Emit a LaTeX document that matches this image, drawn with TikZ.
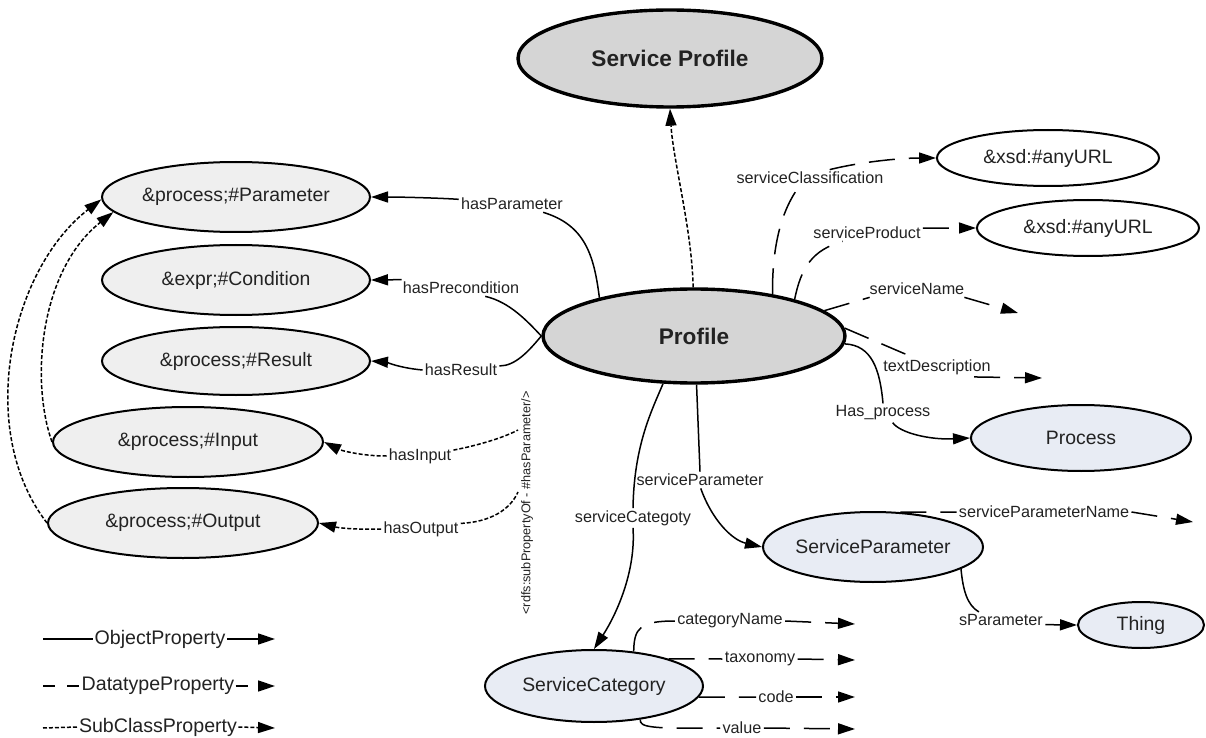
\documentclass[tikz,border=0pt]{standalone}
\usepackage{fontspec}
\setmainfont{Liberation Sans}
\usetikzlibrary{shapes.geometric,arrows.meta}
\definecolor{graybg}{HTML}{D5D5D5}
\definecolor{lightbg}{HTML}{EFEFEF}
\definecolor{bluebg}{HTML}{E8ECF4}
\definecolor{ink}{HTML}{222222}
\tikzset{
  cls/.style={ellipse, draw=black, line width=1pt, inner sep=0pt, text=ink,
    font=\fontsize{9.7}{11}\selectfont},
  mainnode/.style={cls, fill=graybg, line width=1.7pt,
    font=\fontsize{11.3}{13}\selectfont\bfseries},
  plainnode/.style={cls, fill=lightbg},
  instnode/.style={cls, fill=bluebg},
  litnode/.style={cls, fill=white},
  elabel/.style={inner sep=1pt, text=ink, font=\fontsize{8.1}{9}\selectfont},
  legendtext/.style={inner sep=0.5pt, text=ink, font=\fontsize{9.8}{11}\selectfont},
  conn/.style={line width=0.75pt, draw=black},
  objp/.style={conn},
  datap/.style={conn, dash pattern=on 13pt off 7pt},
  subp/.style={conn, dash pattern=on 2pt off 1pt},
  arr/.style={-{Triangle[length=8.5pt,width=5.5pt]}},
}
\begin{document}
\begin{tikzpicture}[x=0.5pt,y=-0.5pt]
\useasboundingbox (0,0) rectangle (1206,738);

% classes
\node[mainnode, minimum width=152pt, minimum height=48.5pt] (sprof) at (670,58.5) {Service Profile};
\node[mainnode, minimum width=151pt, minimum height=47pt] (prof) at (694,336) {Profile};
\node[plainnode, minimum width=134pt, minimum height=35pt] (param) at (236,197) {\&process;\#Parameter};
\node[plainnode, minimum width=134pt, minimum height=35pt] (cond) at (236,280) {\&expr;\#Condition};
\node[plainnode, minimum width=134pt, minimum height=34pt] (result) at (236,361) {\&process;\#Result};
\node[plainnode, minimum width=135pt, minimum height=35pt] (input) at (188,442) {\&process;\#Input};
\node[plainnode, minimum width=135pt, minimum height=35pt] (output) at (183,523) {\&process;\#Output};
\node[litnode, minimum width=111pt, minimum height=28pt] (url1) at (1048,158) {\&xsd:\#anyURL};
\node[litnode, minimum width=111pt, minimum height=28pt] (url2) at (1088,228) {\&xsd:\#anyURL};
\node[instnode, minimum width=110pt, minimum height=33pt] (process) at (1081,438) {Process};
\node[instnode, minimum width=110pt, minimum height=35pt] (spar) at (873,547) {ServiceParameter};
\node[instnode, minimum width=63pt, minimum height=23pt] (thing) at (1141,625) {Thing};
\node[instnode, minimum width=109pt, minimum height=36pt] (scat) at (594,686) {ServiceCategory};

% property labels
\node[elabel] (lpar) at (512,204) {hasParameter};
\node[elabel] (lpre) at (461,288) {hasPrecondition};
\node[elabel] (lres) at (461,370) {hasResult};
\node[elabel] (lin) at (420,456) {hasInput};
\node[elabel] (lout) at (421,529) {hasOutput};
\node[elabel, rotate=90, font=\fontsize{6.35}{7}\selectfont] (lsub) at (527,503) {<rdfs:subPropertyOf - \#hasParameter/>};
\node[elabel] (lcls) at (810,178) {serviceClassification};
\node[elabel] (lprod) at (867,233) {serviceProduct};
\node[elabel] (lname) at (917,289) {serviceName};
\node[elabel] (ltxt) at (937,367) {textDescription};
\node[elabel] (lhp) at (883,413) {Has\_process};
\node[elabel] (lspar) at (700,480) {serviceParameter};
\node[elabel] (lscat) at (633,518) {serviceCategoty};
\node[elabel] (lspn) at (1044,512) {serviceParameterName};
\node[elabel] (lsp) at (1001,620) {sParameter};
\node[elabel] (lcn) at (730,621) {categoryName};
\node[elabel] (ltax) at (760,659) {taxonomy};
\node[elabel] (lcode) at (776,697) {code};
\node[elabel] (lval) at (742,728) {value};

% open ends of datatype properties
\coordinate (inEnd) at (518,430);
\coordinate (outEnd) at (518,492);
\coordinate (snEnd) at (1018,313);
\coordinate (tdEnd) at (1042,378);
\coordinate (spnEnd) at (1193,522);
\coordinate (cnEnd) at (855,624);
\coordinate (txEnd) at (855,660);
\coordinate (cdEnd) at (855,697);
\coordinate (vEnd) at (855,729);

% subclass of Service Profile
\draw[subp,arr] (prof.91) .. controls (692,230) and (673,160) .. (sprof.south);

% object properties on the left
\draw[objp] (prof.158) .. controls (594,255) and (585,225) .. (lpar.-15);
\draw[objp,arr] (lpar.175) .. controls (440,198) and (400,197) .. (param.east);
\draw[objp] (prof.west) .. controls (528,322) and (510,302) .. (lpre.-19);
\draw[objp,arr] (lpre.172) -- (cond.east);
\draw[objp] (prof.west) .. controls (528,352) and (515,366) .. (lres.6);
\draw[objp,arr] (lres.west) .. controls (400,368) and (385,362) .. (result.east);

% sub-properties of hasParameter
\draw[subp] (lin.10) .. controls (480,445) and (505,437) .. (inEnd);
\draw[subp,arr] (lin.west) .. controls (360,456) and (340,450) .. (input.east);
\draw[subp] (lout.8) .. controls (490,522) and (510,510) .. (outEnd);
\draw[subp,arr] (lout.west) .. controls (350,530) and (335,527) .. (output.east);

% Input and Output are Parameters
\draw[subp,arr] (input.west) .. controls (30,380) and (40,270) .. (param.187);
\draw[subp,arr] (output.west) .. controls (-25,430) and (10,270) .. (param.181);

% datatype properties on the right
\draw[datap] (prof.28) .. controls (772,250) and (780,212) .. (lcls.-142);
\draw[datap,arr] (lcls.23) .. controls (860,162) and (900,158) .. (url1.west);
\draw[datap] (prof.20) .. controls (801,268) and (812,250) .. (lprod.199);
\draw[datap,arr] (lprod.5) -- (url2.west);
\draw[datap] (prof.11) -- (lname.190);
\draw[datap,arr] (lname.-10) -- (snEnd);
\draw[datap] (prof.3) -- (ltxt.158);
\draw[datap,arr] (ltxt.-15) -- (tdEnd);

% object properties below
\draw[objp] (prof.-3) .. controls (872,345) and (880,370) .. (lhp.north);
\draw[objp,arr] (lhp.-45) .. controls (900,433) and (930,440) .. (process.west);
\draw[objp] (prof.-87) -- (lspar.north);
\draw[objp,arr] (lspar.-85) .. controls (712,520) and (732,540) .. (spar.west);
\draw[objp] (prof.-123) .. controls (652,410) and (634,445) .. (lscat.north);
\draw[objp,arr] (lscat.south) .. controls (636,572) and (616,615) .. (scat.north);

% ServiceParameter
\draw[datap] (spar.52) -- (lspn.west);
\draw[datap,arr] (lspn.east) -- (spnEnd);
\draw[objp] (spar.-14) .. controls (963,590) and (967,605) .. (lsp.160);
\draw[objp,arr] (lsp.-6) -- (thing.west);

% ServiceCategory
\draw[datap] (scat.41) .. controls (634,628) and (640,621) .. (lcn.west);
\draw[datap,arr] (lcn.east) -- (cnEnd);
\draw[datap] (scat.20) -- (ltax.west);
\draw[datap,arr] (ltax.east) -- (txEnd);
\draw[datap] (scat.-6) -- (lcode.west);
\draw[datap,arr] (lcode.east) -- (cdEnd);
\draw[datap] (scat.-36) .. controls (640,727) and (648,729) .. (lval.west);
\draw[datap,arr] (lval.east) -- (vEnd);

% legend
\coordinate (lgA1) at (43,639); \coordinate (lgA2) at (275,639);
\coordinate (lgB1) at (43,686); \coordinate (lgB2) at (275,686);
\coordinate (lgC1) at (43,728); \coordinate (lgC2) at (275,728);
\node[legendtext] (lg1) at (160,639) {ObjectProperty};
\node[legendtext] (lg2) at (158,686) {DatatypeProperty};
\node[legendtext] (lg3) at (158,727) {SubClassProperty};
\draw[objp] (lgA1) -- (lg1.west);
\draw[objp,arr] (lg1.east) -- (lgA2);
\draw[conn, dash pattern=on 6pt off 6pt] (lgB1) -- (lg2.west);
\draw[conn, dash pattern=on 6pt off 6pt, arr] (lg2.east) -- (lgB2);
\draw[subp] (lgC1) -- (lg3.west);
\draw[subp,arr] (lg3.east) -- (lgC2);
\end{tikzpicture}
\end{document}
